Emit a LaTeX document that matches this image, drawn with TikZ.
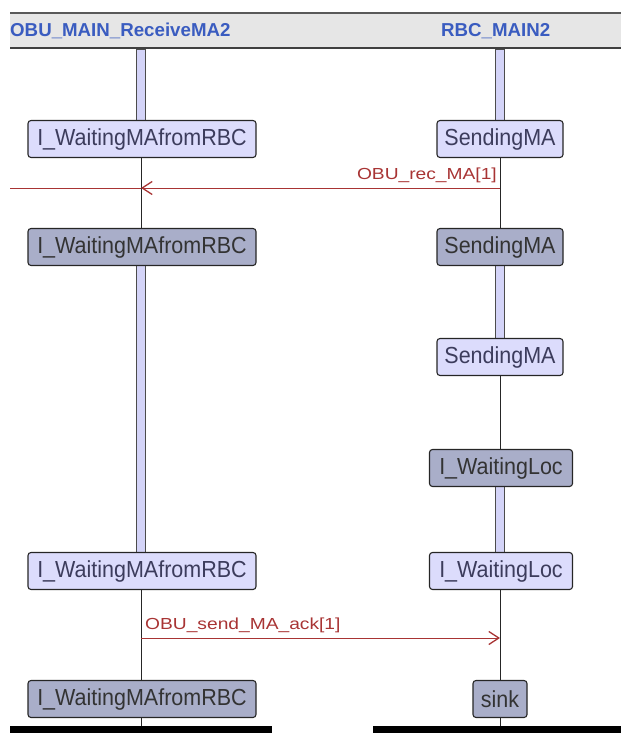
\documentclass[tikz,border=0pt]{standalone}
\usepackage{fontspec}
\usepackage{graphicx}
\setmainfont{Liberation Sans}
\usetikzlibrary{arrows.meta}
\definecolor{hdrbg}{HTML}{E6E6E6}
\definecolor{hdrtxt}{HTML}{3A5CC0}
\definecolor{barfill}{HTML}{D4D4F8}
\definecolor{lightnode}{HTML}{DCDCFC}
\definecolor{darknode}{HTML}{A9AEC9}
\definecolor{nodetxt}{HTML}{3C3C5C}
\definecolor{msgred}{HTML}{A83434}
\tikzset{
  x=1pt, y=-1pt,
  stbox/.style={draw=black!85, line width=1.1pt, rounded corners=3pt, minimum height=37pt,
    inner sep=0pt, font=\fontsize{21.5}{22}\selectfont, text=nodetxt, anchor=center},
  lightst/.style={stbox, fill=lightnode},
  darkst/.style={stbox, fill=darknode, text=black!80},
  lifebar/.style={draw=black!70, line width=0.8pt, fill=barfill},
  thinlife/.style={draw=black!85, line width=1pt},
  msg/.style={draw=msgred, line width=0.9pt},
  msgtip/.style={msg, -{Straight Barb[length=10pt,width=13pt,line width=1.3pt]}},
  msglabel/.style={text=msgred, inner sep=0pt, font=\fontsize{16}{17}\selectfont},
  hdrlabel/.style={text=hdrtxt, inner sep=0pt, font=\fontsize{18.7}{19}\selectfont\bfseries}
}
\newcommand{\stt}[1]{\scalebox{1}[1.08]{#1}}
\begin{document}
\begin{tikzpicture}
\useasboundingbox (0,0) rectangle (621,733);
% header
\fill[hdrbg] (10,13) rectangle (621,48);
\draw[black!65, line width=2pt] (10,13) -- (621,13);
\draw[black!75, line width=1.5pt] (10,48) -- (621,48);
\node[hdrlabel, anchor=west] (h1) at (10,31) {OBU\_MAIN\_ReceiveMA2};
\node[hdrlabel, anchor=west] (h2) at (441,31) {RBC\_MAIN2};
% lifeline bars
\draw[lifebar] (136.5,49) rectangle (145.5,121);
\draw[lifebar] (136.5,264) rectangle (145.5,554);
\draw[lifebar] (495.5,49) rectangle (504.5,121);
\draw[lifebar] (495.5,264) rectangle (504.5,339);
\draw[lifebar] (495.5,486) rectangle (504.5,554);
% states
\node[lightst, minimum width=228pt] (l1) at (142,139) {\stt{I\_WaitingMAfromRBC}};
\node[darkst,  minimum width=228pt] (l2) at (142,247) {\stt{I\_WaitingMAfromRBC}};
\node[lightst, minimum width=228pt] (l3) at (142,571) {\stt{I\_WaitingMAfromRBC}};
\node[darkst,  minimum width=228pt] (l4) at (142,699) {\stt{I\_WaitingMAfromRBC}};
\node[lightst, minimum width=126pt] (r1) at (500,139) {\stt{SendingMA}};
\node[darkst,  minimum width=126pt] (r2) at (500,247) {\stt{SendingMA}};
\node[lightst, minimum width=126pt] (r3) at (500,357) {\stt{SendingMA}};
\node[darkst,  minimum width=143pt] (r4) at (501,468) {\stt{I\_WaitingLoc}};
\node[lightst, minimum width=143pt] (r5) at (501,571) {\stt{I\_WaitingLoc}};
\node[darkst,  minimum width=54pt]  (r6) at (500,699) {\stt{sink}};
% bottom bars
\fill[black] (10,726) rectangle (272,733);
\fill[black] (373,726) rectangle (621,733);
\coordinate (lend) at (141,726);
\coordinate (rend) at (500,726);
% thin lifeline segments
\draw[thinlife] (141,157.5) -- (141,228.5);
\draw[thinlife] (141,589.5) -- (141,680.5);
\draw[thinlife] (l4.south -| lend) -- (lend);
\draw[thinlife] (500,157.5) -- (500,228.5);
\draw[thinlife] (500,375.5) -- (500,449.5);
\draw[thinlife] (500,589.5) -- (500,680.5);
\draw[thinlife] (r6.south -| rend) -- (rend);
% messages
\coordinate (m1s) at (500,188);
\coordinate (m1t) at (141,188);
\coordinate (m1e) at (10,188);
\draw[msg] (m1t) -- (m1e);
\draw[msgtip] (m1s) -- (m1t);
\node[msglabel, anchor=south east] (lab1) at (497,183.5) {\scalebox{1.2}[1]{OBU\_rec\_MA[1]}};
\coordinate (m2s) at (141,638);
\coordinate (m2t) at (500,638);
\draw[msgtip] (m2s) -- (m2t);
\node[msglabel, anchor=south west] (lab2) at (145,633.5) {\scalebox{1.2}[1]{OBU\_send\_MA\_ack[1]}};
\end{tikzpicture}
\end{document}
